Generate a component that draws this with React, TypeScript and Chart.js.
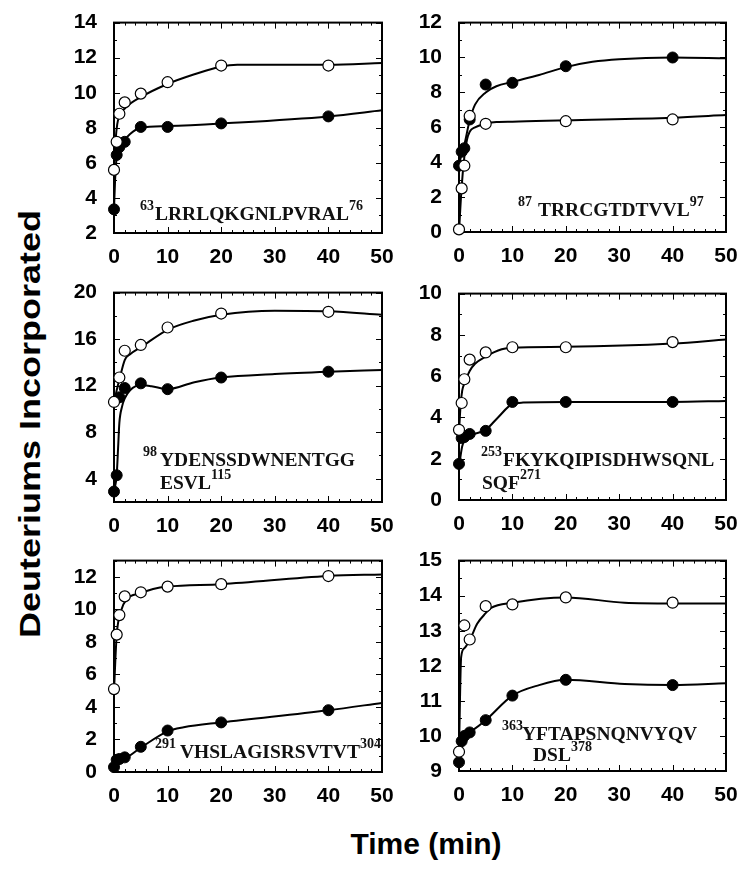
import React, { useEffect, useRef } from "react";
import { Chart, registerables } from "chart.js";

Chart.register(...registerables);

// ---------- Data ----------
const xTicks = [0, 10, 20, 30, 40, 50];

// Panel A: 63LRRLQKGNLPVRAL76
const aOpenT = [0, 0.5, 1, 2, 5, 10, 20, 40];
const aOpenY = [5.6, 7.2, 8.8, 9.45, 9.95, 10.6, 11.55, 11.55];
const aFilledT = [0, 0.5, 1, 2, 5, 10, 20, 40];
const aFilledY = [3.35, 6.45, 6.9, 7.2, 8.05, 8.05, 8.25, 8.65];
const aOpenFitT = [0, 0.3, 0.6, 1, 2, 5, 10, 15, 20, 23, 40, 50];
const aOpenFitY = [5.6, 7.3, 8.2, 8.65, 9.1, 9.75, 10.5, 11.05, 11.5, 11.6, 11.6, 11.7];
const aFilledFitT = [0, 0.2, 0.5, 1, 2, 3, 5, 10, 20, 40, 50];
const aFilledFitY = [3.35, 5.0, 6.3, 6.8, 7.3, 7.65, 8.0, 8.1, 8.25, 8.65, 9.0];
const aYTicks = [2, 4, 6, 8, 10, 12, 14];

// Panel B: 87TRRCGTDTVVL97
const bOpenT = [0, 0.5, 1, 2, 5, 20, 40];
const bOpenY = [0.15, 2.5, 3.8, 6.65, 6.2, 6.35, 6.45];
const bFilledT = [0, 0.5, 1, 2, 5, 10, 20, 40];
const bFilledY = [3.8, 4.6, 4.8, 6.45, 8.45, 8.55, 9.5, 10.0];
const bOpenFitT = [0, 0.5, 1, 1.5, 2, 3, 5, 7, 10, 20, 40, 50];
const bOpenFitY = [0, 2.6, 4.3, 5.3, 5.75, 6.0, 6.2, 6.3, 6.32, 6.4, 6.55, 6.7];
const bFilledFitT = [0, 0.5, 1, 2, 3, 5, 7, 10, 15, 20, 25, 30, 40, 50];
const bFilledFitY = [3.8, 4.5, 5.0, 6.4, 7.3, 8.0, 8.35, 8.6, 9.0, 9.45, 9.75, 9.9, 10.0, 9.95];
const bYTicks = [0, 2, 4, 6, 8, 10, 12];

// Panel C: 98YDENSSDWNENTGG ESVL115
const cOpenT = [0, 1, 2, 5, 10, 20, 40];
const cOpenY = [10.6, 12.7, 15.0, 15.5, 17.0, 18.2, 18.35];
const cFilledT = [0, 0.5, 1, 2, 5, 10, 20, 40];
const cFilledY = [2.9, 4.3, 11.0, 11.8, 12.2, 11.7, 12.7, 13.2];
const cOpenFitT = [0, 0.5, 1, 2, 3, 5, 10, 15, 20, 30, 40, 50];
const cOpenFitY = [10.5, 11.6, 12.5, 14.2, 14.7, 15.3, 16.8, 17.6, 18.1, 18.45, 18.4, 18.1];
const cFilledFitT = [0, 0.5, 0.8, 1, 1.5, 2, 3, 5, 7, 10, 15, 20, 30, 40, 50];
const cFilledFitY = [2.9, 4.3, 7.0, 8.8, 10.2, 10.9, 11.6, 12.05, 11.95, 11.7, 12.3, 12.7, 13.0, 13.2, 13.35];
const cYTicks = [4, 8, 12, 16, 20];

// Panel D: 253FKYKQIPISDHWSQNL SQF271
const dOpenT = [0, 0.5, 1, 2, 5, 10, 20, 40];
const dOpenY = [3.4, 4.7, 5.85, 6.8, 7.15, 7.4, 7.4, 7.65];
const dFilledT = [0, 0.5, 1, 2, 5, 10, 20, 40];
const dFilledY = [1.75, 3.0, 3.05, 3.2, 3.35, 4.75, 4.75, 4.75];
const dOpenFitT = [0, 0.3, 0.6, 1, 2, 3, 5, 8, 10, 20, 40, 50];
const dOpenFitY = [3.3, 4.6, 5.3, 5.65, 6.25, 6.6, 6.95, 7.3, 7.38, 7.42, 7.58, 7.78];
const dFilledFitT = [0, 0.6, 1.4, 2.3, 5, 7.3, 10, 12, 20, 40, 50];
const dFilledFitY = [1.6, 2.6, 3.0, 3.15, 3.4, 4.0, 4.65, 4.72, 4.75, 4.75, 4.8];
const dYTicks = [0, 2, 4, 6, 8, 10];

// Panel E: 291VHSLAGISRSVTVT304
const eOpenT = [0, 0.5, 1, 2, 5, 10, 20, 40];
const eOpenY = [5.1, 8.45, 9.65, 10.8, 11.05, 11.4, 11.55, 12.05];
const eFilledT = [0, 0.5, 1, 2, 5, 10, 20, 40];
const eFilledY = [0.3, 0.75, 0.8, 0.9, 1.55, 2.55, 3.05, 3.8];
const eOpenFitT = [0, 0.5, 1.3, 2.3, 5, 7.3, 10, 20, 40, 50];
const eOpenFitY = [5.0, 8.4, 9.9, 10.6, 11.0, 11.25, 11.4, 11.55, 12.05, 12.15];
const eFilledFitT = [0, 0.5, 2, 5, 10, 13, 20, 40, 50];
const eFilledFitY = [0.3, 0.7, 0.85, 1.5, 2.5, 2.75, 3.05, 3.8, 4.25];
const eYTicks = [0, 2, 4, 6, 8, 10, 12];

// Panel F: 363YFTAPSNQNVYQV DSL378
const fOpenT = [0, 1, 2, 5, 10, 20, 40];
const fOpenY = [9.55, 13.15, 12.75, 13.7, 13.75, 13.95, 13.8];
const fFilledT = [0, 0.5, 1, 2, 5, 10, 20, 40];
const fFilledY = [9.25, 9.85, 10.0, 10.1, 10.45, 11.15, 11.6, 11.45];
const fOpenFitT = [0, 0.4, 1, 2.2, 3.4, 5, 6, 10, 20, 31, 40, 50];
const fOpenFitY = [9.55, 12.25, 12.5, 12.8, 13.2, 13.5, 13.65, 13.8, 13.95, 13.8, 13.78, 13.78];
const fFilledFitT = [0, 0.3, 1, 2, 5, 10, 15, 20, 31, 40, 50];
const fFilledFitY = [9.25, 9.85, 10.0, 10.1, 10.45, 11.15, 11.45, 11.6, 11.48, 11.45, 11.5];
const fYTicks = [9, 10, 11, 12, 13, 14, 15];

// ---------- Layout ----------
const PAD_L = 60;
const PAD_T = 20;
const PAD_R = 22;
const PAD_B = 40;
const SANS = '"Liberation Sans", Arial, Helvetica, sans-serif';
const SERIF = '"Liberation Serif", "Times New Roman", serif';

type Box = { left: number; top: number; right: number; bottom: number };

interface PanelSpec {
  box: Box;
  yMin: number;
  yMax: number;
  yTicks: number[];
  yMinor: number;
  openT: number[];
  openY: number[];
  filledT: number[];
  filledY: number[];
  openFitT: number[];
  openFitY: number[];
  filledFitT: number[];
  filledFitY: number[];
}

const panels: PanelSpec[] = [
  { box: { left: 114, top: 21, right: 382, bottom: 233 }, yMin: 2, yMax: 14, yTicks: aYTicks, yMinor: 1,
    openT: aOpenT, openY: aOpenY, filledT: aFilledT, filledY: aFilledY,
    openFitT: aOpenFitT, openFitY: aOpenFitY, filledFitT: aFilledFitT, filledFitY: aFilledFitY },
  { box: { left: 459, top: 21, right: 726, bottom: 232 }, yMin: 0, yMax: 12, yTicks: bYTicks, yMinor: 1,
    openT: bOpenT, openY: bOpenY, filledT: bFilledT, filledY: bFilledY,
    openFitT: bOpenFitT, openFitY: bOpenFitY, filledFitT: bFilledFitT, filledFitY: bFilledFitY },
  { box: { left: 114, top: 291, right: 382, bottom: 502 }, yMin: 2, yMax: 20, yTicks: cYTicks, yMinor: 2,
    openT: cOpenT, openY: cOpenY, filledT: cFilledT, filledY: cFilledY,
    openFitT: cOpenFitT, openFitY: cOpenFitY, filledFitT: cFilledFitT, filledFitY: cFilledFitY },
  { box: { left: 459, top: 292, right: 726, bottom: 500 }, yMin: 0, yMax: 10, yTicks: dYTicks, yMinor: 1,
    openT: dOpenT, openY: dOpenY, filledT: dFilledT, filledY: dFilledY,
    openFitT: dOpenFitT, openFitY: dOpenFitY, filledFitT: dFilledFitT, filledFitY: dFilledFitY },
  { box: { left: 114, top: 559, right: 382, bottom: 772 }, yMin: 0, yMax: 13, yTicks: eYTicks, yMinor: 1,
    openT: eOpenT, openY: eOpenY, filledT: eFilledT, filledY: eFilledY,
    openFitT: eOpenFitT, openFitY: eOpenFitY, filledFitT: eFilledFitT, filledFitY: eFilledFitY },
  { box: { left: 459, top: 559, right: 726, bottom: 771 }, yMin: 9, yMax: 15, yTicks: fYTicks, yMinor: 0.5,
    openT: fOpenT, openY: fOpenY, filledT: fFilledT, filledY: fFilledY,
    openFitT: fOpenFitT, openFitY: fOpenFitY, filledFitT: fFilledFitT, filledFitY: fFilledFitY },
];

const zip = (xs: number[], ys: number[]) => xs.map((x, i) => ({ x, y: ys[i] }));

const framePlugin = {
  id: "frame",
  beforeDatasetsDraw(chart: any, _args: any, opts: any) {
    const { ctx, chartArea, scales } = chart;
    const { left, right, top, bottom } = chartArea;
    const xs = scales.x;
    const ys = scales.y;
    ctx.save();
    ctx.strokeStyle = "#000";
    ctx.lineWidth = 1;
    const seg = (x1: number, y1: number, x2: number, y2: number) => {
      ctx.beginPath();
      ctx.moveTo(x1, y1);
      ctx.lineTo(x2, y2);
      ctx.stroke();
    };
    // x ticks (major 10, minor 2)
    for (let v = xs.min; v <= xs.max + 1e-9; v += 2) {
      const px = Math.round(xs.getPixelForValue(v)) + 0.5;
      const major = Math.abs(v / 10 - Math.round(v / 10)) < 1e-6;
      const len = major ? 6 : 3;
      seg(px, bottom, px, bottom - len);
      seg(px, top, px, top + len);
    }
    // y ticks
    const majors: number[] = opts.majors || [];
    const minor: number = opts.minor || 1;
    for (let v = ys.min; v <= ys.max + 1e-9; v += minor) {
      const py = Math.round(ys.getPixelForValue(v)) + 0.5;
      const major = majors.some((m) => Math.abs(m - v) < 1e-6);
      const len = major ? 6 : 3;
      seg(left, py, left + len, py);
      seg(right, py, right - len, py);
    }
    ctx.lineWidth = 2;
    ctx.strokeRect(left, top, right - left, bottom - top);
    ctx.restore();
  },
};

function Panel({ spec }: { spec: PanelSpec }) {
  const ref = useRef<HTMLCanvasElement | null>(null);
  const { box } = spec;
  const w = box.right - box.left + PAD_L + PAD_R;
  const h = box.bottom - box.top + PAD_T + PAD_B;

  useEffect(() => {
    if (!ref.current) return;
    const tickFont = { family: SANS, size: 21, weight: "bold" as const };
    const chart = new Chart(ref.current, {
      type: "scatter",
      data: {
        datasets: [
          {
            data: zip(spec.openT, spec.openY),
            pointRadius: 5.5,
            pointBackgroundColor: "#ffffff",
            pointBorderColor: "#000000",
            pointBorderWidth: 1.2,
            showLine: false,
            clip: false,
            order: 0,
          },
          {
            data: zip(spec.filledT, spec.filledY),
            pointRadius: 5.5,
            pointBackgroundColor: "#000000",
            pointBorderColor: "#000000",
            pointBorderWidth: 1,
            showLine: false,
            clip: false,
            order: 0,
          },
          {
            data: zip(spec.openFitT, spec.openFitY),
            showLine: true,
            pointRadius: 0,
            borderColor: "#000000",
            borderWidth: 2,
            cubicInterpolationMode: "monotone",
            fill: false,
            order: 1,
          },
          {
            data: zip(spec.filledFitT, spec.filledFitY),
            showLine: true,
            pointRadius: 0,
            borderColor: "#000000",
            borderWidth: 2,
            cubicInterpolationMode: "monotone",
            fill: false,
            order: 1,
          },
        ] as any,
      },
      options: {
        animation: false,
        responsive: false,
        devicePixelRatio: 1,
        events: [],
        layout: { padding: { top: PAD_T, right: PAD_R, left: 0, bottom: 0 } },
        plugins: {
          legend: { display: false },
          tooltip: { enabled: false },
          frame: { majors: spec.yTicks, minor: spec.yMinor },
        } as any,
        scales: {
          x: {
            type: "linear",
            min: 0,
            max: 50,
            afterBuildTicks: (s: any) => {
              s.ticks = xTicks.map((v) => ({ value: v }));
            },
            afterFit: (s: any) => {
              s.height = PAD_B;
            },
            grid: { display: false },
            border: { display: false },
            ticks: { font: tickFont, color: "#000", padding: 4, maxRotation: 0, autoSkip: false },
          },
          y: {
            type: "linear",
            min: spec.yMin,
            max: spec.yMax,
            afterBuildTicks: (s: any) => {
              s.ticks = spec.yTicks.map((v) => ({ value: v }));
            },
            afterFit: (s: any) => {
              s.width = PAD_L;
            },
            grid: { display: false },
            border: { display: false },
            ticks: { font: tickFont, color: "#000", padding: 9, autoSkip: false },
          },
        },
      },
      plugins: [framePlugin],
    });
    return () => chart.destroy();
  }, []);

  return (
    <canvas
      ref={ref}
      width={w}
      height={h}
      style={{
        position: "absolute",
        left: box.left - PAD_L,
        top: box.top - PAD_T,
        width: w,
        height: h,
      }}
    />
  );
}

// ---------- Peptide labels ----------
interface LabelLine {
  supX?: number;
  mainX: number;
  baseline: number;
  pre?: string;
  text: string;
  post?: string;
}

const labelLines: LabelLine[] = [
  { supX: 140, mainX: 155, baseline: 220.5, pre: "63", text: "LRRLQKGNLPVRAL", post: "76" },
  { supX: 518, mainX: 538, baseline: 216.5, pre: "87", text: "TRRCGTDTVVL", post: "97" },
  { supX: 143, mainX: 160, baseline: 467, pre: "98", text: "YDENSSDWNENTGG" },
  { mainX: 160, baseline: 490, text: "ESVL", post: "115" },
  { supX: 481, mainX: 503, baseline: 467, pre: "253", text: "FKYKQIPISDHWSQNL" },
  { mainX: 482, baseline: 490, text: "SQF", post: "271" },
  { supX: 155, mainX: 180, baseline: 759, pre: "291", text: "VHSLAGISRSVTVT", post: "304" },
  { supX: 502, mainX: 522, baseline: 740.5, pre: "363", text: "YFTAPSNQNVYQV" },
  { mainX: 533, baseline: 762, text: "DSL", post: "378" },
];

const MAIN_SIZE = 19.5;
const SUP_SIZE = 14;
const SUP_RAISE = 10;

function PeptideLine({ line }: { line: LabelLine }) {
  const left = line.supX !== undefined ? line.supX : line.mainX;
  const supStyle: React.CSSProperties = {
    fontSize: SUP_SIZE,
    position: "relative",
    top: -SUP_RAISE,
    lineHeight: 1,
  };
  return (
    <div
      style={{
        position: "absolute",
        left,
        top: line.baseline - 16.6,
        fontFamily: SERIF,
        fontWeight: "bold",
        fontSize: MAIN_SIZE,
        lineHeight: "20px",
        whiteSpace: "nowrap",
        color: "#111",
      }}
    >
      {line.pre && (
        <span style={{ ...supStyle, display: "inline-block", width: line.mainX - (line.supX as number) }}>
          {line.pre}
        </span>
      )}
      {line.text}
      {line.post && <span style={supStyle}>{line.post}</span>}
    </div>
  );
}

export default function App() {
  return (
    <div
      style={{
        position: "absolute",
        left: 0,
        top: 0,
        width: 750,
        height: 874,
        background: "#fff",
        overflow: "hidden",
      }}
    >
      {panels.map((p, i) => (
        <Panel key={i} spec={p} />
      ))}
      {labelLines.map((l, i) => (
        <PeptideLine key={i} line={l} />
      ))}
      <div
        style={{
          position: "absolute",
          left: 30 - 250,
          top: 424 - 18,
          width: 500,
          height: 36,
          lineHeight: "36px",
          textAlign: "center",
          fontFamily: SANS,
          fontWeight: "bold",
          fontSize: 30,
          color: "#000",
          transform: "rotate(-90deg) scaleX(1.2)",
          transformOrigin: "50% 50%",
          whiteSpace: "nowrap",
        }}
      >
        Deuteriums Incorporated
      </div>
      <div
        style={{
          position: "absolute",
          left: 326,
          top: 825.6,
          width: 200,
          lineHeight: "36px",
          textAlign: "center",
          fontFamily: SANS,
          fontWeight: "bold",
          fontSize: 30,
          color: "#000",
          whiteSpace: "nowrap",
        }}
      >
        Time (min)
      </div>
    </div>
  );
}
